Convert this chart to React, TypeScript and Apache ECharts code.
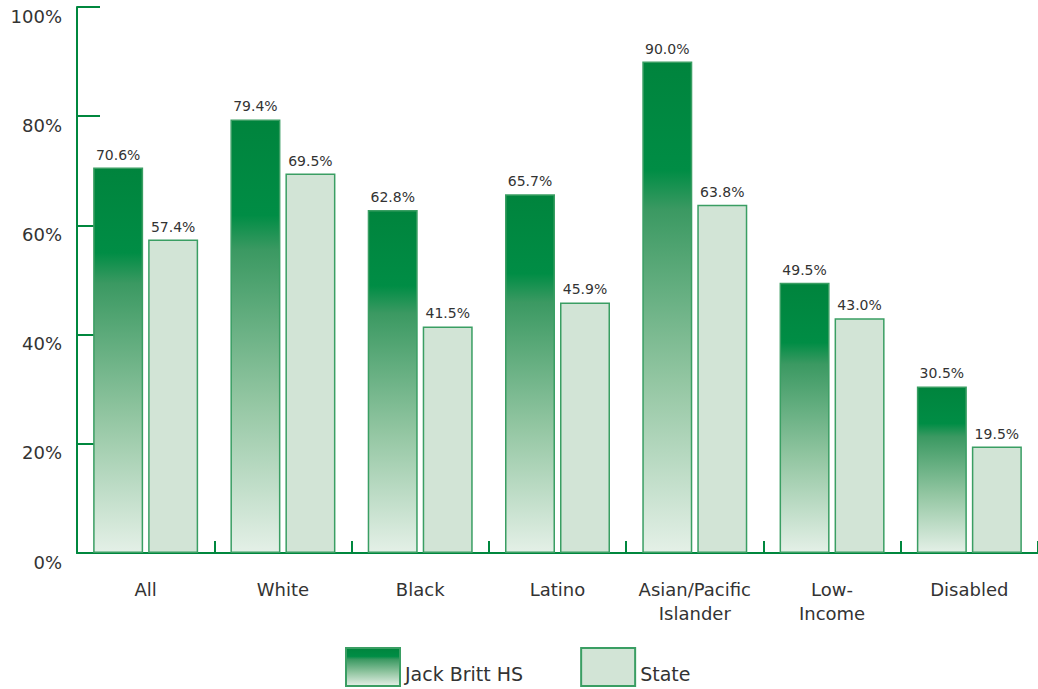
import React, { useEffect, useRef } from "react";
import * as echarts from "echarts";

const categories = ["All", "White", "Black", "Latino", "Asian/Pacific\nIslander", "Low-\nIncome", "Disabled"];
const jackBritt = [70.6, 79.4, 62.8, 65.7, 90.0, 49.5, 30.5];
const state = [57.4, 69.5, 41.5, 45.9, 63.8, 43.0, 19.5];
const yTicks = [0, 20, 40, 60, 80, 100];

const GREEN = "#00873E";
const FONT = "DejaVu Sans";

export default function App() {
  const ref = useRef<HTMLDivElement>(null);
  useEffect(() => {
    if (!ref.current) return;
    const chart = echarts.init(ref.current, null, { renderer: "svg" });
    const grad = new echarts.graphic.LinearGradient(0, 0, 0, 1, [
      { offset: 0, color: "#00843D" },
      { offset: 0.22, color: "#008D45" },
      { offset: 0.3, color: "#3B9962" },
      { offset: 0.65, color: "#93C6A2" },
      { offset: 1, color: "#E4F0E7" },
    ]);
    const label = {
      show: true,
      position: "top" as const,
      distance: 6,
      fontFamily: FONT,
      fontSize: 14,
      color: "#333",
      formatter: (p: any) => Number(p.value).toFixed(1) + "%",
    };
    chart.setOption({
      animation: false,
      textStyle: { fontFamily: FONT },
      grid: { left: 77, top: 7, width: 965, height: 546, containLabel: false },
      legend: {
        top: 642,
        left: 340,
        icon: "rect",
        itemWidth: 54,
        itemHeight: 38,
        itemGap: 57,
        formatter: (n: string) => "{a|" + n + "}",
        textStyle: {
          fontFamily: FONT,
          fontSize: 19,
          color: "#333",
          rich: { a: { fontFamily: FONT, fontSize: 19, color: "#333", padding: [14, 0, 0, 0] } },
        },
        data: ["Jack Britt HS", "State"],
      },
      xAxis: {
        type: "category",
        data: categories,
        axisLine: { lineStyle: { color: GREEN, width: 2 } },
        axisTick: { show: true, inside: true, length: 12, interval: 0, lineStyle: { color: GREEN, width: 2 } },
        axisLabel: { interval: 0, fontFamily: FONT, fontSize: 18, color: "#333", margin: 24, lineHeight: 24 },
      },
      yAxis: {
        type: "value",
        min: 0,
        max: 100,
        interval: 20,
        axisLine: { show: true, lineStyle: { color: GREEN, width: 2 } },
        axisTick: { show: true, inside: true, length: 23, lineStyle: { color: GREEN, width: 2 } },
        splitLine: { show: false },
        axisLabel: {
          fontFamily: FONT,
          fontSize: 18,
          color: "#333",
          margin: 15,
          verticalAlign: "top",
          formatter: (v: number) => (yTicks.includes(v) ? v + "%" : ""),
        },
      },
      series: [
        {
          name: "Jack Britt HS",
          type: "bar",
          data: jackBritt,
          barWidth: 50,
          barGap: "10%",
          itemStyle: { color: grad, borderColor: "#3A9E63", borderWidth: 1.5 },
          label,
        },
        {
          name: "State",
          type: "bar",
          data: state,
          barWidth: 50,
          itemStyle: { color: "#D2E4D6", borderColor: "#3A9E63", borderWidth: 1.5 },
          label,
        },
      ],
    });
    return () => chart.dispose();
  }, []);
  return <div ref={ref} style={{ position: "absolute", left: 0, top: 0, width: 1038, height: 689 }} />;
}
